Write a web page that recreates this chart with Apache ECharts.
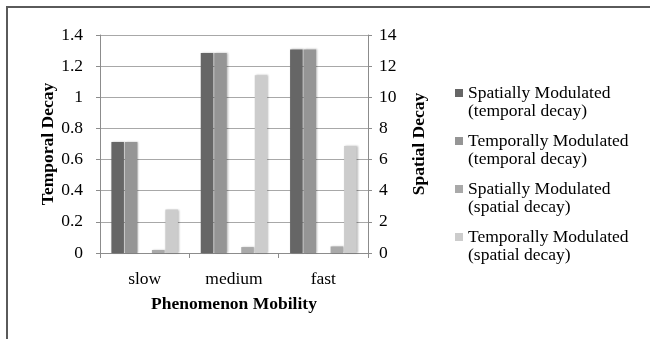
<!DOCTYPE html>
<html>
<head>
<meta charset="utf-8">
<script src="https://cdn.jsdelivr.net/npm/echarts@6/dist/echarts.min.js"></script>
<style>
  html, body { margin: 0; padding: 0; background: #fff; }
  #chart { width: 650px; height: 339px; }
</style>
</head>
<body>
<div id="chart"></div>
<script>
// Mobility categories
const categories = ['slow', 'medium', 'fast'];

// Temporal decay (left axis)
const spatialModTemporal = [0.713, 1.285, 1.307];
const temporalModTemporal = [0.713, 1.285, 1.307];

// Spatial decay (right axis)
const spatialModSpatial = [0.19, 0.38, 0.42];
const temporalModSpatial = [2.79, 11.42, 6.87];

// Series names as shown in the legend
const seriesNames = [
  'Spatially Modulated\n(temporal decay)',
  'Temporally Modulated\n(temporal decay)',
  'Spatially Modulated\n(spatial decay)',
  'Temporally Modulated\n(spatial decay)'
];

const colors = ['#666666', '#959595', '#a9a9a9', '#cccccc'];

const FONT = '"Liberation Serif", "Times New Roman", serif';
const FS = 17.5;

const barShadow = {
  shadowColor: 'rgba(0,0,0,0.28)',
  shadowBlur: 2,
  shadowOffsetX: 1,
  shadowOffsetY: 0
};

function bar(name, data, axis, color) {
  return {
    name: name,
    type: 'bar',
    yAxisIndex: axis,
    data: data,
    barWidth: 12.5,
    barGap: '8%',
    itemStyle: Object.assign({ color: color }, barShadow),
    emphasis: { disabled: true }
  };
}

const chart = echarts.init(document.getElementById('chart'), null, { renderer: 'canvas' });

chart.setOption({
  animation: false,
  backgroundColor: '#ffffff',
  textStyle: { fontFamily: FONT, color: '#000' },
  graphic: [{
    type: 'polyline',
    shape: { points: [[7, 339], [7, 7], [650, 7]] },
    style: { stroke: '#5a5a5a', lineWidth: 2, fill: null },
    silent: true
  }],
  grid: { left: 100, right: 282, top: 35, bottom: 86, containLabel: false },
  legend: {
    data: seriesNames,
    orient: 'vertical',
    left: 455,
    top: 66,
    padding: 0,
    itemWidth: 8,
    itemHeight: 8,
    itemGap: -6,
    icon: 'rect',
    selectedMode: false,
    // a leading blank line keeps the marker level with the first text line
    formatter: function (name) { return '\n' + name; },
    textStyle: {
      fontFamily: FONT,
      fontSize: FS,
      color: '#000',
      lineHeight: 18
    }
  },
  xAxis: {
    type: 'category',
    data: categories,
    axisLine: { lineStyle: { color: '#8c8c8c', width: 1 } },
    axisTick: { show: true, length: 5, lineStyle: { color: '#8c8c8c' } },
    axisLabel: { fontFamily: FONT, fontSize: FS, color: '#000', margin: 17 },
    name: 'Phenomenon Mobility',
    nameLocation: 'middle',
    nameGap: 42,
    nameTextStyle: { fontFamily: FONT, fontSize: FS, fontWeight: 'bold', color: '#000' }
  },
  yAxis: [{
    type: 'value',
    min: 0,
    max: 1.4,
    interval: 0.2,
    axisLine: { show: true, lineStyle: { color: '#8c8c8c' } },
    axisTick: { show: true, length: 4, lineStyle: { color: '#8c8c8c' } },
    splitLine: { show: true, lineStyle: { color: '#a8a8a8', width: 1 } },
    axisLabel: { fontFamily: FONT, fontSize: FS, color: '#000', margin: 17 },
    name: 'Temporal Decay',
    nameLocation: 'middle',
    nameRotate: 90,
    nameGap: 43,
    nameTextStyle: { fontFamily: FONT, fontSize: FS, fontWeight: 'bold', color: '#000' }
  }, {
    type: 'value',
    position: 'right',
    min: 0,
    max: 14,
    interval: 2,
    axisLine: { show: true, lineStyle: { color: '#8c8c8c' } },
    axisTick: { show: true, length: 4, lineStyle: { color: '#8c8c8c' } },
    splitLine: { show: false },
    axisLabel: { fontFamily: FONT, fontSize: FS, color: '#000', margin: 11 },
    name: 'Spatial Decay',
    nameLocation: 'middle',
    nameRotate: 90,
    nameGap: 42,
    nameTextStyle: { fontFamily: FONT, fontSize: FS, fontWeight: 'bold', color: '#000' }
  }],
  series: [
    bar(seriesNames[0], spatialModTemporal, 0, colors[0]),
    bar(seriesNames[1], temporalModTemporal, 0, colors[1]),
    // empty slot separating the temporal-decay pair from the spatial-decay pair
    { name: 'gap', type: 'bar', yAxisIndex: 0, data: [], barWidth: 12.5, barGap: '8%' },
    bar(seriesNames[2], spatialModSpatial, 1, colors[2]),
    bar(seriesNames[3], temporalModSpatial, 1, colors[3])
  ]
});
</script>
</body>
</html>
